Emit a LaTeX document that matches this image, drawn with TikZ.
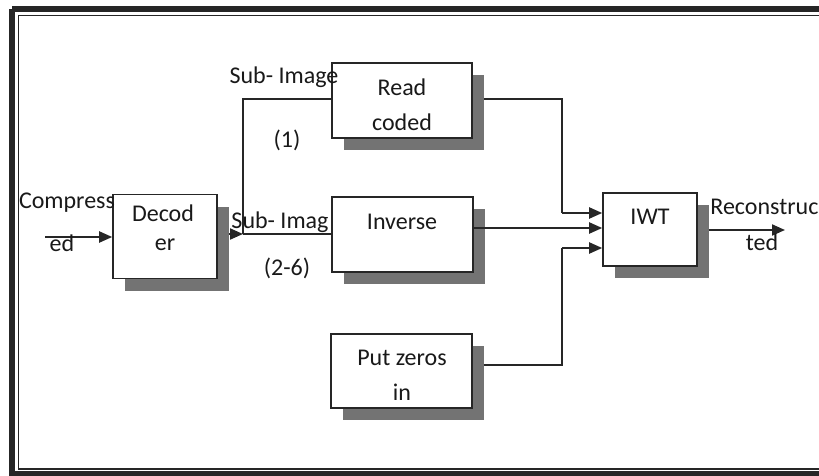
\documentclass[tikz,border=0pt]{standalone}
\usepackage{fontspec}
\setmainfont{Carlito}
\usetikzlibrary{arrows.meta,shadows}
\begin{document}
\begin{tikzpicture}[x=0.5pt,y=-0.5pt,
  box/.style={draw=black!85, line width=0.8pt, fill=white, inner sep=0pt,
    drop shadow={shadow xshift=5.8pt, shadow yshift=-6.2pt, fill=black!55, opacity=1}},
  txt/.style={font=\fontsize{12}{14}\selectfont, inner sep=0pt, text=black!90},
  conn/.style={draw=black!85, line width=1pt},
  arr/.style={conn, -{Triangle[length=6.5pt,width=5.5pt]}},
  frameo/.style={draw=black!85},
]
\useasboundingbox (0,0) rectangle (819,476);
\clip (0,0) rectangle (819,476);
% frame
\draw[frameo, line width=2.6pt] (12,9) -- (840,9);
\draw[frameo, line width=2.6pt] (12,9) -- (12,473.5) -- (840,473.5);
\draw[frameo, line width=0.8pt] (18.5,15.5) -- (840,15.5);
\draw[frameo, line width=0.8pt] (18.5,15.5) -- (18.5,469) -- (840,469);

% boxes
\node[box, minimum width=52pt, minimum height=42pt] (dec) at (165,236.5) {};
\node[box, minimum width=70pt, minimum height=37.5pt] (rc) at (402,100.5) {};
\node[box, minimum width=70.5pt, minimum height=37.5pt] (inv) at (402.5,234.5) {};
\node[box, minimum width=70.5pt, minimum height=37pt] (pz) at (401.5,371) {};
\node[box, minimum width=47pt, minimum height=36.5pt] (iwt) at (650,229.5) {};

% box texts
\node[txt] (tdec1) at (163,213) {Decod};
\node[txt] (tdec2) at (165,245) {er};
\node[txt] (trc1) at (402,87) {Read};
\node[txt] (trc2) at (402,122) {coded};
\node[txt] (tinv) at (402,222) {Inverse};
\node[txt] (tpz1) at (402,358) {Put zeros};
\node[txt] (tpz2) at (402,392) {in};
\node[txt] (tiwt) at (650,217) {IWT};

% connectors
\coordinate (in) at (45,237);
\coordinate (split) at (243,234);
\coordinate (jr) at (562,213);
\coordinate (jz) at (562,248);
\coordinate (out) at (785,230);
\draw[arr] (in) -- (dec.west |- in);
\draw[arr] ([xshift=5.5pt]dec.east |- split) -- (split);
\draw[conn] (split) -- (inv.west |- split);
\draw[conn] (split) |- ([yshift=0.75pt]rc.west);
\draw[conn] ([xshift=5.5pt,yshift=0.75pt]rc.east) -| (jr);
\draw[arr] (jr) -- (iwt.west |- jr);
\draw[arr] (inv.east |- 0,228) -- (iwt.west |- 0,228);
\draw[conn] ([xshift=5.5pt,yshift=3pt]pz.east) -| (jz);
\draw[arr] (jz) -- (iwt.west |- jz);
\draw[arr] ([xshift=5.5pt]iwt.east |- out) -- (out);

% labels
\node[txt] (lc1) at (67,203) {Compress};
\node[txt] (lc2) at (62,243) {ed};
\node[txt] (ls1) at (284,77) {Sub- Image};
\node[txt] (ln1) at (287,140) {(1)};
\node[txt] (ls2) at (280,222) {Sub- Imag};
\node[txt] (ln2) at (287,268) {(2-6)};
\node[txt, anchor=west] (lr1) at (710,207) {Reconstruc};
\node[txt] (lr2) at (762,242) {ted};
\end{tikzpicture}
\end{document}
